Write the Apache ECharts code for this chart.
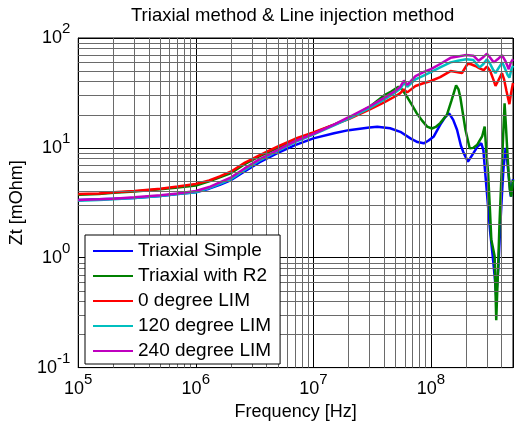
<!DOCTYPE html>
<html>
<head>
<meta charset="utf-8">
<script src="https://cdn.jsdelivr.net/npm/echarts@6/dist/echarts.min.js"></script>
<style>html,body{margin:0;padding:0;background:#fff}#c{width:516px;height:426px}</style>
</head>
<body>
<div id="c"></div>
<script>
const titleText = 'Triaxial method & Line injection method';
const xName = 'Frequency [Hz]';
const yName = 'Zt [mOhm]';
const seriesNames = ['Triaxial Simple', 'Triaxial with R2', '0 degree LIM', '120 degree LIM', '240 degree LIM'];
const xRange = [1e5, 5e8];
const yRange = [0.1, 100];
const xMinorGrid = [2e5,3e5,4e5,5e5,6e5,7e5,8e5,9e5,2e6,3e6,4e6,5e6,6e6,7e6,8e6,9e6,2e7,3e7,4e7,5e7,6e7,7e7,8e7,9e7,2e8,3e8,4e8];
const yMinorGrid = [0.2,0.3,0.4,0.5,0.6,0.7,0.8,0.9,2,3,4,5,6,7,8,9,20,30,40,50,60,70,80,90];

const triaxialSimple = [[1e5,3.35],[1.5e5,3.4],[2e5,3.45],[3e5,3.5],[5e5,3.65],[7e5,3.8],[1e6,3.95],[1.3e6,4.25],[1.6e6,4.6],[2e6,5.1],[2.6e6,6.1],[3.5e6,7.4],[5e6,9.0],[7e6,10.6],[1e7,12.2],[1.5e7,13.6],[2e7,14.5],[3e7,15.3],[3.5e7,15.6],[4.5e7,15.1],[5.5e7,14.0],[6.7e7,12.2],[7.7e7,11.3],[8.7e7,11.0],[9.5e7,11.6],[1.06e8,12.7],[1.2e8,16.2],[1.32e8,19],[1.43e8,20.6],[1.55e8,18],[1.67e8,14.6],[1.8e8,10.5],[1.9e8,9],[2.07e8,7.5],[2.31e8,9],[2.5e8,10.3],[2.69e8,11],[2.8e8,9.5],[2.87e8,6.8],[3.07e8,2.9],[3.2e8,1.7],[3.34e8,1.1],[3.49e8,0.68],[3.6e8,0.45],[3.75e8,0.8],[3.9e8,2.0],[4.05e8,4.2],[4.15e8,6.5],[4.33e8,10],[4.45e8,8],[4.54e8,6.3],[4.79e8,3.6],[5e8,5.2]];
const triaxialR2 = [[1e5,3.75],[1.5e5,3.8],[2e5,3.9],[3e5,4.0],[5e5,4.2],[7e5,4.35],[1e6,4.55],[1.3e6,4.95],[1.6e6,5.4],[2e6,5.9],[2.6e6,7.1],[3.5e6,8.4],[5e6,10.0],[7e6,11.8],[1e7,13.6],[1.5e7,16.3],[2e7,18.6],[3e7,23.5],[4e7,30],[4.6e7,32.5],[5.3e7,36],[5.7e7,34],[6.3e7,29],[7e7,24],[7.6e7,20.6],[8.5e7,17.5],[9.3e7,15.6],[1.02e8,15],[1.1e8,15.5],[1.2e8,16.8],[1.37e8,20],[1.5e8,27],[1.64e8,37],[1.72e8,34],[1.78e8,29],[1.88e8,20],[1.97e8,14.6],[2.14e8,9.9],[2.3e8,10],[2.47e8,10.6],[2.73e8,12.7],[2.87e8,15.6],[2.97e8,9],[3.07e8,5.9],[3.17e8,3],[3.27e8,1.46],[3.49e8,1.03],[3.6e8,0.27],[3.72e8,0.73],[3.84e8,2.08],[4.05e8,8.3],[4.24e8,25.5],[4.35e8,16],[4.45e8,10.3],[4.58e8,6],[4.7e8,4.15],[4.83e8,3.6],[5e8,5.1]];
const lim0 = [[1e5,3.8],[1.5e5,3.85],[2e5,3.95],[3e5,4.05],[5e5,4.25],[7e5,4.45],[1e6,4.7],[1.3e6,5.05],[1.6e6,5.5],[2e6,6.1],[2.6e6,7.3],[3.5e6,8.6],[5e6,10.3],[7e6,12.1],[1e7,13.8],[1.5e7,16.3],[2e7,18.3],[3e7,22.3],[4e7,26],[5e7,29.5],[5.5e7,31.5],[5.9e7,34],[6.3e7,32],[7.4e7,36.6],[8.5e7,38.5],[1e8,40.6],[1.2e8,44],[1.47e8,50],[1.65e8,49],[1.84e8,48],[2.05e8,58],[2.17e8,58],[2.39e8,55.6],[2.6e8,53],[2.82e8,51],[3.0e8,55],[3.2e8,50],[3.4e8,42],[3.55e8,36.6],[3.75e8,41],[4.03e8,48],[4.2e8,42],[4.4e8,33],[4.55e8,28],[4.66e8,25],[4.8e8,31],[5e8,39]];
const lim120 = [[1e5,3.3],[1.5e5,3.35],[2e5,3.4],[3e5,3.5],[5e5,3.65],[7e5,3.8],[1e6,3.95],[1.3e6,4.3],[1.6e6,4.7],[2e6,5.2],[2.6e6,6.3],[3.5e6,7.7],[5e6,9.4],[7e6,11.3],[1e7,13.2],[1.5e7,16],[2e7,18.5],[3e7,23],[4e7,27.5],[5e7,32],[5.5e7,34.5],[5.9e7,39],[6.3e7,36],[7.4e7,42],[8.5e7,45],[1e8,49],[1.2e8,54],[1.47e8,60],[1.7e8,62],[2e8,64],[2.3e8,63],[2.45e8,58],[2.6e8,54],[2.8e8,58],[3.0e8,64],[3.2e8,58],[3.4e8,51],[3.55e8,48],[3.8e8,54],[4.05e8,60],[4.3e8,52],[4.5e8,46],[4.66e8,43.6],[4.85e8,52],[5e8,56]];
const lim240 = [[1e5,3.35],[1.5e5,3.4],[2e5,3.45],[3e5,3.55],[5e5,3.7],[7e5,3.85],[1e6,4.05],[1.3e6,4.4],[1.6e6,4.85],[2e6,5.4],[2.6e6,6.5],[3.5e6,7.9],[5e6,9.6],[7e6,11.5],[1e7,13.4],[1.5e7,16.3],[2e7,19],[3e7,23.8],[4e7,28.5],[5e7,33],[5.5e7,36],[5.9e7,41],[6.3e7,37.5],[7.4e7,45],[8.5e7,48.5],[1e8,52],[1.2e8,58],[1.47e8,66],[1.7e8,68],[2e8,70],[2.3e8,69],[2.55e8,62],[2.75e8,66],[3.0e8,72],[3.2e8,66],[3.43e8,60],[3.7e8,64],[4.03e8,70],[4.3e8,62],[4.6e8,52],[4.8e8,60],[5e8,64]];

const allData = [triaxialSimple, triaxialR2, lim0, lim120, lim240];
const colors = ['#0000ff', '#008000', '#ff0000', '#00bfbf', '#bf00bf'];
const FONT = '"Liberation Sans", Arial, Helvetica, sans-serif';

function sciLabel(v) {
  const e = Math.log10(v);
  const r = Math.round(e);
  if (Math.abs(e - r) > 1e-6) return '';
  return '{b|10}{s|' + r + '}';
}
const richLabel = {
  b: { fontSize: 18, fontFamily: FONT, color: '#000', verticalAlign: 'middle' },
  s: { fontSize: 15, fontFamily: FONT, color: '#000', verticalAlign: 'middle', padding: [0, 0, 18, 0] }
};

const gridLineSeries = {
  type: 'line',
  data: [],
  symbol: 'none',
  silent: true,
  z: 0,
  animation: false,
  markLine: {
    silent: true,
    symbol: ['none', 'none'],
    label: { show: false },
    animation: false,
    lineStyle: { color: '#6a6a6a', type: 'solid', width: 1 },
    emphasis: { disabled: true },
    data: xMinorGrid.map(v => ({ xAxis: v })).concat(yMinorGrid.map(v => ({ yAxis: v })))
  }
};

const dataSeries = seriesNames.map((name, i) => ({
  name: name,
  type: 'line',
  data: allData[i],
  symbol: 'none',
  showSymbol: false,
  z: 3,
  animation: false,
  lineStyle: { color: colors[i], width: 2.5 },
  itemStyle: { color: colors[i] }
}));

const chart = echarts.init(document.getElementById('c'), null, { renderer: 'canvas' });
chart.setOption({
  animation: false,
  backgroundColor: '#fff',
  title: {
    text: titleText,
    left: 131,
    top: 6,
    padding: 0,
    textStyle: { fontSize: 18.5, fontWeight: 'normal', fontFamily: FONT, color: '#000' }
  },
  grid: {
    left: 78, top: 38, right: 3, bottom: 58,
    show: true, borderColor: '#000', borderWidth: 1, backgroundColor: '#fff',
    containLabel: false
  },
  legend: {
    orient: 'vertical',
    left: 85,
    top: 235,
    z: 20,
    padding: [6, 9, 3, 8],
    icon: 'rect',
    itemWidth: 40,
    itemHeight: 2,
    itemGap: 5,
    backgroundColor: '#fff',
    borderColor: '#000',
    borderWidth: 1,
    borderRadius: 0,
    textStyle: { fontSize: 19, lineHeight: 20, fontFamily: FONT, color: '#000' },
    data: seriesNames
  },
  xAxis: {
    type: 'log', logBase: 10, min: xRange[0], max: xRange[1],
    name: xName, nameLocation: 'middle', nameGap: 33,
    nameTextStyle: { fontSize: 18, fontFamily: FONT, color: '#000' },
    axisLine: { show: true, lineStyle: { color: '#000', width: 1 } },
    axisTick: { show: true, inside: true, length: 5, lineStyle: { color: '#000' } },
    axisLabel: { margin: 5, formatter: sciLabel, rich: richLabel, color: '#000', showMinLabel: true, showMaxLabel: true, hideOverlap: false },
    splitLine: { show: true, lineStyle: { color: '#000', width: 1, type: 'solid' } },
    minorTick: { show: false },
    minorSplitLine: { show: false }
  },
  yAxis: {
    type: 'log', logBase: 10, min: yRange[0], max: yRange[1],
    name: yName, nameLocation: 'middle', nameGap: 40,
    nameTextStyle: { fontSize: 18, fontFamily: FONT, color: '#000' },
    axisLine: { show: true, lineStyle: { color: '#000', width: 1 } },
    axisTick: { show: true, inside: true, length: 5, lineStyle: { color: '#000' } },
    axisLabel: { margin: 8, formatter: sciLabel, rich: richLabel, color: '#000', showMinLabel: true, showMaxLabel: true, hideOverlap: false },
    splitLine: { show: true, lineStyle: { color: '#000', width: 1, type: 'solid' } },
    minorTick: { show: false },
    minorSplitLine: { show: false }
  },
  series: [gridLineSeries].concat(dataSeries)
});
</script>
</body>
</html>
